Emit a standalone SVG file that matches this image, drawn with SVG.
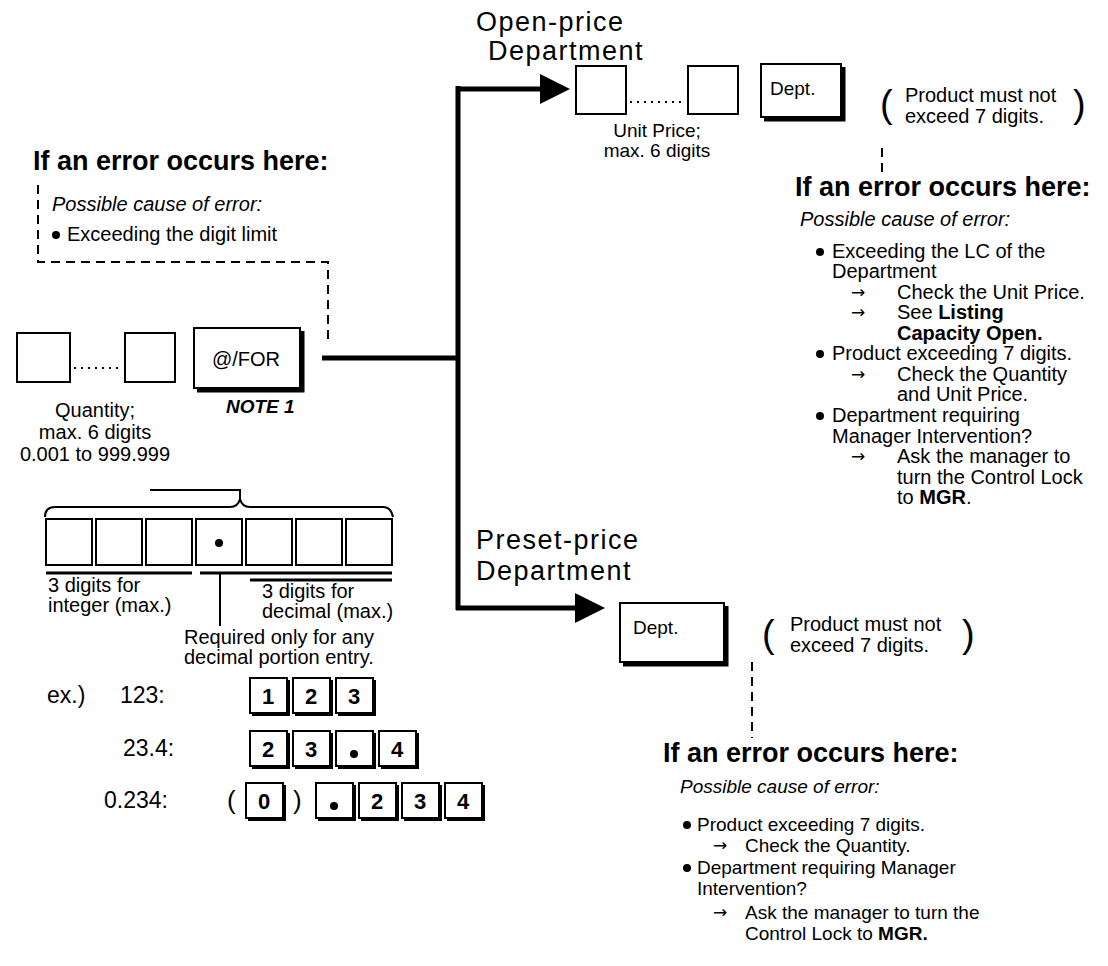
<svg xmlns="http://www.w3.org/2000/svg" width="1108" height="966" viewBox="0 0 1108 966">
<style>
text{font-family:"Liberation Sans",Arial,sans-serif;fill:#000}
.t{font-size:20px}
.s{font-size:19px}
.ti{font-size:20px;font-style:italic}
.h{font-size:27px;font-weight:bold}
.big{font-size:27px;letter-spacing:1.5px}
.b{font-weight:bold}
.ar{font-family:"DejaVu Sans",sans-serif;font-size:17px}
.box{fill:#fff;stroke:#000;stroke-width:2}
.sh{fill:none;stroke:#000;stroke-width:5}
.conn{fill:none;stroke:#000;stroke-width:5}
.dash{fill:none;stroke:#000;stroke-width:2;stroke-dasharray:9,6}
.thin{fill:none;stroke:#000;stroke-width:2}
.dots{fill:none;stroke:#000;stroke-width:2;stroke-dasharray:2,5}
.kd{font-size:22px;font-weight:bold;text-anchor:middle}
.ex{font-size:23px}
.par{font-size:38px}
</style>
<defs>
<marker id="ah" markerUnits="userSpaceOnUse" viewBox="0 0 30 30" markerWidth="30" markerHeight="30" refX="2" refY="15" orient="auto">
<path d="M0,0 L30,15 L0,30 z" fill="#000"/>
</marker>
</defs>

<g id="connectors">
<path class="conn" d="M322,358 H458"/>
<path class="conn" d="M458,86 V610"/>
<path class="conn" d="M456,89 H542" marker-end="url(#ah)"/>
<path class="conn" d="M456,608 H577" marker-end="url(#ah)"/>
<path class="dash" d="M38,185 V262 H328 V342"/>
<path class="dash" d="M882,148 V178"/>
<path class="dash" d="M752,662 V738"/>
</g>

<g id="left-error">
<text class="h" x="33" y="170">If an error occurs here:</text>
<text class="ti" x="52" y="211">Possible cause of error:</text>
<circle cx="56" cy="235" r="4"/>
<text class="t" x="67" y="241">Exceeding the digit limit</text>
</g>

<g id="quantity">
<rect class="box" x="17" y="333" width="53" height="49"/>
<path class="dots" d="M74,368 H122"/>
<rect class="box" x="125" y="333" width="50" height="49"/>
<text class="t" x="95" y="417" text-anchor="middle">Quantity;</text>
<text class="t" x="95" y="439" text-anchor="middle">max. 6 digits</text>
<text class="t" x="95" y="461" text-anchor="middle">0.001 to 999.999</text>
</g>

<g id="for-key">
<rect class="box" x="194" y="328" width="106" height="60"/>
<path class="sh" d="M302,331 V390 H197"/>
<text x="246" y="366" text-anchor="middle" style="font-size:20px">@/FOR</text>
<text x="226" y="413" style="font-size:19px;font-weight:bold;font-style:italic">NOTE 1</text>
</g>

<g id="open-price">
<text class="big" x="476" y="31">Open-price</text>
<text class="big" x="488" y="60">Department</text>
<rect class="box" x="576" y="66" width="50" height="48"/>
<path class="dots" d="M630,102 H684"/>
<rect class="box" x="688" y="66" width="50" height="48"/>
<text class="s" x="657" y="137" text-anchor="middle">Unit Price;</text>
<text class="s" x="657" y="157" text-anchor="middle">max. 6 digits</text>
<rect class="box" x="761" y="64" width="80" height="53"/>
<path class="sh" d="M843,67 V119 H764"/>
<text class="s" x="770" y="95">Dept.</text>
<text class="par" x="880" y="117">(</text>
<text class="t" x="905" y="102">Product must not</text>
<text class="t" x="905" y="123">exceed 7 digits.</text>
<text class="par" x="1073" y="117">)</text>
</g>

<g id="open-error">
<text class="h" x="795" y="196">If an error occurs here:</text>
<text class="ti" x="800" y="226">Possible cause of error:</text>
<circle cx="820" cy="252" r="4"/>
<text class="t" x="832" y="258">Exceeding the LC of the</text>
<text class="t" x="832" y="278">Department</text>
<text class="ar" x="851" y="298">→</text>
<text class="t" x="897" y="299">Check the Unit Price.</text>
<text class="ar" x="851" y="318">→</text>
<text class="t" x="897" y="319">See <tspan class="b">Listing</tspan></text>
<text class="t b" x="897" y="340">Capacity Open.</text>
<circle cx="820" cy="354" r="4"/>
<text class="t" x="832" y="360">Product exceeding 7 digits.</text>
<text class="ar" x="851" y="380">→</text>
<text class="t" x="897" y="381">Check the Quantity</text>
<text class="t" x="897" y="401">and Unit Price.</text>
<circle cx="820" cy="416" r="4"/>
<text class="t" x="832" y="422">Department requiring</text>
<text class="t" x="832" y="443">Manager Intervention?</text>
<text class="ar" x="851" y="462">→</text>
<text class="t" x="897" y="463">Ask the manager to</text>
<text class="t" x="897" y="484">turn the Control Lock</text>
<text class="t" x="897" y="504">to <tspan class="b">MGR</tspan>.</text>
</g>

<g id="preset-price">
<text class="big" x="476" y="549">Preset-price</text>
<text class="big" x="476" y="580">Department</text>
<rect class="box" x="620" y="603" width="104" height="59"/>
<path class="sh" d="M726,606 V664 H623"/>
<text class="s" x="633" y="634">Dept.</text>
<text class="par" x="762" y="647">(</text>
<text class="t" x="790" y="631">Product must not</text>
<text class="t" x="790" y="652">exceed 7 digits.</text>
<text class="par" x="962" y="647">)</text>
</g>

<g id="preset-error">
<text class="h" x="663" y="762">If an error occurs here:</text>
<text class="ti" x="680" y="793" style="font-size:19px">Possible cause of error:</text>
<circle cx="687" cy="825" r="4"/>
<text class="s" x="697" y="831">Product exceeding 7 digits.</text>
<text class="ar" x="713" y="851">→</text>
<text class="s" x="745" y="852">Check the Quantity.</text>
<circle cx="687" cy="868" r="4"/>
<text class="s" x="697" y="874">Department requiring Manager</text>
<text class="s" x="697" y="895">Intervention?</text>
<text class="ar" x="713" y="918">→</text>
<text class="s" x="745" y="919">Ask the manager to turn the</text>
<text class="s" x="745" y="940">Control Lock to <tspan class="b">MGR.</tspan></text>
</g>

<g id="digit-layout">
<path class="thin" d="M150,490 H240 V499"/>
<path class="thin" d="M45,517 Q45,507 55,507 H230 Q238,507 240,499 Q242,507 250,507 H383 Q391,507 393,517"/>
<rect class="box" x="46" y="519" width="46" height="46"/>
<rect class="box" x="96" y="519" width="46" height="46"/>
<rect class="box" x="146" y="519" width="46" height="46"/>
<rect class="box" x="196" y="519" width="46" height="46"/>
<circle cx="219" cy="543" r="4"/>
<rect class="box" x="246" y="519" width="46" height="46"/>
<rect class="box" x="296" y="519" width="46" height="46"/>
<rect class="box" x="346" y="519" width="46" height="46"/>
<path d="M46,573 H192" stroke="#000" stroke-width="3"/>
<path d="M200,573 H392" stroke="#000" stroke-width="3"/>
<path d="M250,580 H392" stroke="#000" stroke-width="3"/>
<path class="thin" d="M220,574 V626"/>
<text class="t" x="48" y="592">3 digits for</text>
<text class="t" x="48" y="612">integer (max.)</text>
<text class="t" x="262" y="598">3 digits for</text>
<text class="t" x="262" y="618">decimal (max.)</text>
<text class="t" x="184" y="644">Required only for any</text>
<text class="t" x="184" y="664">decimal portion entry.</text>
</g>

<g id="examples">
<text class="ex" x="47" y="703">ex.)</text>
<text class="ex" x="120" y="703">123:</text>
<rect class="box" x="250" y="678" width="37" height="35"/><path class="thin" d="M289,680 V715 H252"/><text class="kd" x="268" y="704">1</text>
<rect class="box" x="293" y="678" width="37" height="35"/><path class="thin" d="M332,680 V715 H295"/><text class="kd" x="311" y="704">2</text>
<rect class="box" x="336" y="678" width="37" height="35"/><path class="thin" d="M375,680 V715 H338"/><text class="kd" x="354" y="704">3</text>

<text class="ex" x="123" y="756">23.4:</text>
<rect class="box" x="250" y="731" width="37" height="35"/><path class="thin" d="M289,733 V768 H252"/><text class="kd" x="268" y="757">2</text>
<rect class="box" x="293" y="731" width="37" height="35"/><path class="thin" d="M332,733 V768 H295"/><text class="kd" x="311" y="757">3</text>
<rect class="box" x="336" y="731" width="37" height="35"/><path class="thin" d="M375,733 V768 H338"/><circle cx="354" cy="754" r="4"/>
<rect class="box" x="379" y="731" width="37" height="35"/><path class="thin" d="M418,733 V768 H381"/><text class="kd" x="397" y="757">4</text>

<text class="ex" x="104" y="808">0.234:</text>
<text x="227" y="809" style="font-size:26px">(</text>
<rect class="box" x="246" y="783" width="37" height="35"/><path class="thin" d="M285,785 V820 H248"/><text class="kd" x="264" y="809">0</text>
<text x="293" y="809" style="font-size:26px">)</text>
<rect class="box" x="316" y="783" width="37" height="35"/><path class="thin" d="M355,785 V820 H318"/><circle cx="334" cy="806" r="4"/>
<rect class="box" x="359" y="783" width="37" height="35"/><path class="thin" d="M398,785 V820 H361"/><text class="kd" x="377" y="809">2</text>
<rect class="box" x="402" y="783" width="37" height="35"/><path class="thin" d="M441,785 V820 H404"/><text class="kd" x="420" y="809">3</text>
<rect class="box" x="445" y="783" width="37" height="35"/><path class="thin" d="M484,785 V820 H447"/><text class="kd" x="463" y="809">4</text>
</g>
</svg>
